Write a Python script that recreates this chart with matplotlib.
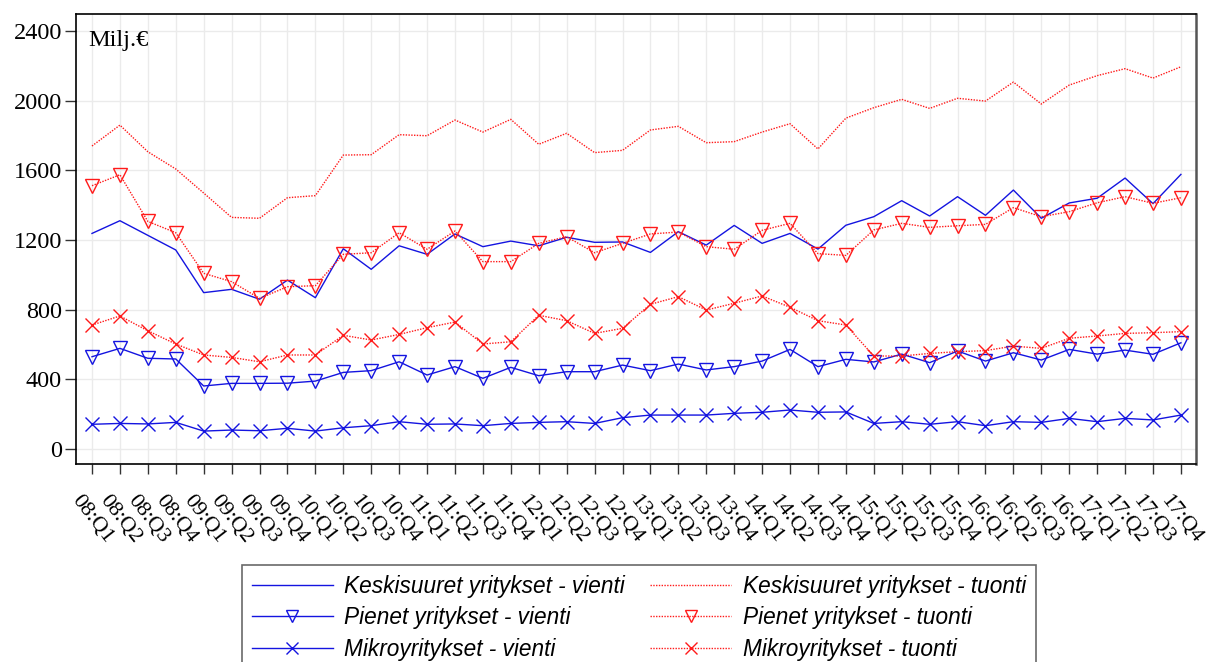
import matplotlib
matplotlib.use("Agg")
import matplotlib.pyplot as plt
import numpy as np

quarters = [f"{y:02d}:Q{q}" for y in range(8, 18) for q in range(1, 5)]

keski_vienti = [1238, 1311, 1227, 1143, 898, 917, 860, 970, 869, 1150, 1032, 1167, 1118, 1235,
                1162, 1194, 1167, 1216, 1187, 1189, 1129, 1248, 1171, 1284, 1181, 1238, 1148, 1285,
                1334, 1426, 1338, 1449, 1342, 1487, 1325, 1413, 1440, 1556, 1409, 1577]
pienet_vienti = [530, 578, 521, 517, 362, 377, 377, 378, 390, 440, 450, 501, 425, 473,
                 406, 469, 421, 444, 444, 482, 450, 488, 454, 473, 505, 572, 473, 515,
                 500, 545, 496, 563, 505, 553, 511, 572, 545, 568, 544, 610]
mikro_vienti = [142, 147, 144, 153, 103, 109, 105, 119, 103, 122, 134, 157, 142, 144,
                134, 147, 153, 157, 147, 180, 195, 195, 195, 205, 211, 224, 211, 213,
                147, 157, 142, 157, 134, 157, 153, 176, 157, 176, 167, 195]
keski_tuonti = [1740, 1860, 1707, 1608, 1470, 1330, 1325, 1443, 1455, 1688, 1690, 1805, 1799, 1889,
                1820, 1893, 1750, 1813, 1702, 1715, 1832, 1853, 1759, 1765, 1820, 1868, 1723, 1900,
                1960, 2008, 1956, 2014, 1998, 2107, 1981, 2090, 2144, 2184, 2130, 2195]
pienet_tuonti = [1512, 1575, 1307, 1242, 1009, 961, 865, 932, 938, 1118, 1127, 1242, 1147, 1252,
                 1076, 1076, 1181, 1219, 1127, 1181, 1235, 1246, 1162, 1147, 1256, 1296, 1122, 1112,
                 1258, 1296, 1273, 1282, 1290, 1386, 1334, 1363, 1414, 1449, 1411, 1443]
mikro_tuonti = [712, 764, 679, 603, 540, 526, 501, 540, 540, 653, 626, 658, 697, 729,
                603, 616, 768, 737, 664, 693, 831, 875, 798, 837, 879, 814, 737, 712,
                534, 534, 549, 559, 565, 591, 578, 636, 649, 664, 668, 674]

labels = ["Keskisuuret yritykset - vienti", "Keskisuuret yritykset - tuonti",
          "Pienet yritykset - vienti", "Pienet yritykset - tuonti",
          "Mikroyritykset - vienti", "Mikroyritykset - tuonti"]

blue = "#1414e0"
red = "#ff1a1a"

fig = plt.figure(figsize=(12.27, 6.62), dpi=100)
ax = fig.add_axes([76 / 1227, 1 - 464 / 662, (1196 - 76) / 1227, (464 - 14) / 662])

x = np.arange(len(quarters))
ms = 10.5
l1, = ax.plot(x, keski_vienti, color=blue, lw=1.0, ls="-")
l2, = ax.plot(x, keski_tuonti, color=red, lw=1.0, ls=(0, (1, 1)))
l3, = ax.plot(x, pienet_vienti, color=blue, lw=1.0, ls="-", marker="v", ms=ms,
              mfc="none", mec=blue, mew=1.0)
l4, = ax.plot(x, pienet_tuonti, color=red, lw=1.0, ls=(0, (1, 1)), marker="v", ms=ms,
              mfc="none", mec=red, mew=1.0)
l5, = ax.plot(x, mikro_vienti, color=blue, lw=1.0, ls="-", marker="x", ms=ms,
              mec=blue, mew=1.0)
l6, = ax.plot(x, mikro_tuonti, color=red, lw=1.0, ls=(0, (1, 1)), marker="x", ms=ms,
              mec=red, mew=1.0)

ax.set_xlim(-0.573, 39.54)
ax.set_ylim(-86, 2498)
ax.set_yticks([0, 400, 800, 1200, 1600, 2000, 2400])
ax.set_xticks(x)
ax.set_xticklabels(quarters, rotation=-52, ha="center", va="top",
                   fontfamily="Liberation Serif", fontsize=16)
for t in ax.get_yticklabels():
    t.set_fontfamily("Liberation Serif")
    t.set_fontsize(17.5)
ax.tick_params(axis="y", length=8, width=1, pad=2, color="#333333")
ax.tick_params(axis="x", length=7, width=1, pad=13, color="#333333")
ax.grid(True, color="#ebebeb", lw=1.0)
ax.set_axisbelow(True)
for s in ["left", "top", "bottom"]:
    ax.spines[s].set_color("black")
    ax.spines[s].set_linewidth(1.2)
ax.spines["right"].set_color("#555555")
ax.spines["right"].set_linewidth(1.8)

ax.text(0.011, 0.965, "Milj.€", transform=ax.transAxes, ha="left", va="top",
        fontfamily="Liberation Serif", fontsize=17.5)

handles = [l1, l3, l5, l2, l4, l6]
hlabels = [labels[0], labels[2], labels[4], labels[1], labels[3], labels[5]]
leg = fig.legend(handles, hlabels, ncol=2, loc="upper left",
                 bbox_to_anchor=(242 / 1227, 1 - 565 / 662),
                 prop={"family": "Liberation Sans", "style": "italic", "size": 16.3},
                 frameon=True, fancybox=False, edgecolor="#444444",
                 handlelength=3.6, handletextpad=0.5, columnspacing=1.1,
                 labelspacing=0.38, borderpad=0.42, borderaxespad=0)
leg.get_frame().set_linewidth(1.2)
for lh in leg.legend_handles:
    lh.set_markersize(8)

fig.savefig("out.png", dpi=100)
